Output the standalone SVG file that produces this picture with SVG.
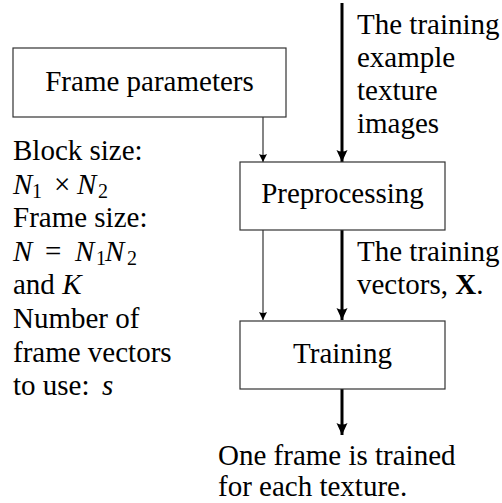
<svg xmlns="http://www.w3.org/2000/svg" width="502" height="503" viewBox="0 0 502 503">
  <defs>
    <!-- arrowheads: small for parameter links, large for data flow -->
    <marker id="headThin" viewBox="0 0 8 10" refX="8" refY="5" markerWidth="8" markerHeight="10" markerUnits="userSpaceOnUse" orient="auto">
      <path d="M0,1 L8,5 L0,9 Q2,5 0,1 Z" fill="#000"/>
    </marker>
    <marker id="headThick" viewBox="0 0 12 12" refX="12" refY="6" markerWidth="12" markerHeight="12" markerUnits="userSpaceOnUse" orient="auto">
      <path d="M0,0.5 L12,6 L0,11.5 Q3,6 0,0.5 Z" fill="#000"/>
    </marker>
  </defs>

  <!-- connectors -->
  <g id="connectors" fill="none">
    <g stroke="#333" stroke-width="1.2" marker-end="url(#headThin)">
      <line x1="263" y1="117" x2="263" y2="162"/>
      <line x1="263" y1="230" x2="263" y2="320"/>
    </g>
    <g stroke="#000" stroke-width="3" marker-end="url(#headThick)">
      <line x1="342" y1="3" x2="342" y2="162"/>
      <line x1="342" y1="230" x2="342" y2="320"/>
      <line x1="342" y1="389" x2="342" y2="435"/>
    </g>
  </g>

  <!-- nodes -->
  <g id="frame-parameters">
    <rect x="13" y="48" width="273" height="69" fill="#fff" stroke="#333" stroke-width="1.2"/>
    <text font-family="Liberation Serif" font-size="29" x="149.5" y="91" text-anchor="middle">Frame parameters</text>
  </g>
  <g id="preprocessing">
    <rect x="240" y="162" width="205" height="68" fill="#fff" stroke="#333" stroke-width="1.2"/>
    <text font-family="Liberation Serif" font-size="29" x="342.5" y="203" text-anchor="middle">Preprocessing</text>
  </g>
  <g id="training">
    <rect x="240" y="321" width="205" height="68" fill="#fff" stroke="#333" stroke-width="1.2"/>
    <text font-family="Liberation Serif" font-size="29" x="342.5" y="363" text-anchor="middle">Training</text>
  </g>

  <!-- input label -->
  <g id="input-label">
    <text font-family="Liberation Serif" font-size="29" x="357" y="34">The training</text>
    <text font-family="Liberation Serif" font-size="29" x="357" y="67">example</text>
    <text font-family="Liberation Serif" font-size="29" x="357" y="100">texture</text>
    <text font-family="Liberation Serif" font-size="29" x="357" y="133">images</text>
  </g>

  <!-- training vectors label -->
  <g id="vectors-label">
    <text font-family="Liberation Serif" font-size="29" x="357" y="261">The training</text>
    <text font-family="Liberation Serif" font-size="29" x="357" y="294">vectors, <tspan font-weight="bold">X</tspan>.</text>
  </g>

  <!-- parameter list -->
  <g id="parameter-list">
    <text font-family="Liberation Serif" font-size="29" x="13" y="160">Block size:</text>
    <text font-family="Liberation Serif" font-size="29" y="194"><tspan font-style="italic" x="13">N</tspan><tspan font-size="20" x="32" dy="4">1</tspan><tspan x="54" dy="-4">×</tspan><tspan font-style="italic" x="77">N</tspan><tspan font-size="20" x="98" dy="4">2</tspan></text>
    <text font-family="Liberation Serif" font-size="29" x="13" y="227">Frame size:</text>
    <text font-family="Liberation Serif" font-size="29" y="261"><tspan font-style="italic" x="13">N</tspan><tspan x="45">=</tspan><tspan font-style="italic" x="75">N</tspan><tspan font-size="20" x="96" dy="4">1</tspan><tspan font-style="italic" x="105" dy="-4">N</tspan><tspan font-size="20" x="127" dy="4">2</tspan></text>
    <text font-family="Liberation Serif" font-size="29" x="13" y="294">and <tspan font-style="italic">K</tspan></text>
    <text font-family="Liberation Serif" font-size="29" x="13" y="328">Number of</text>
    <text font-family="Liberation Serif" font-size="29" x="13" y="362">frame vectors</text>
    <text font-family="Liberation Serif" font-size="29" x="13" y="395">to use: <tspan font-style="italic" x="102">s</tspan></text>
  </g>

  <!-- output label -->
  <g id="output-label">
    <text font-family="Liberation Serif" font-size="29" x="218" y="465">One frame is trained</text>
    <text font-family="Liberation Serif" font-size="29" x="218" y="496">for each texture.</text>
  </g>
</svg>
